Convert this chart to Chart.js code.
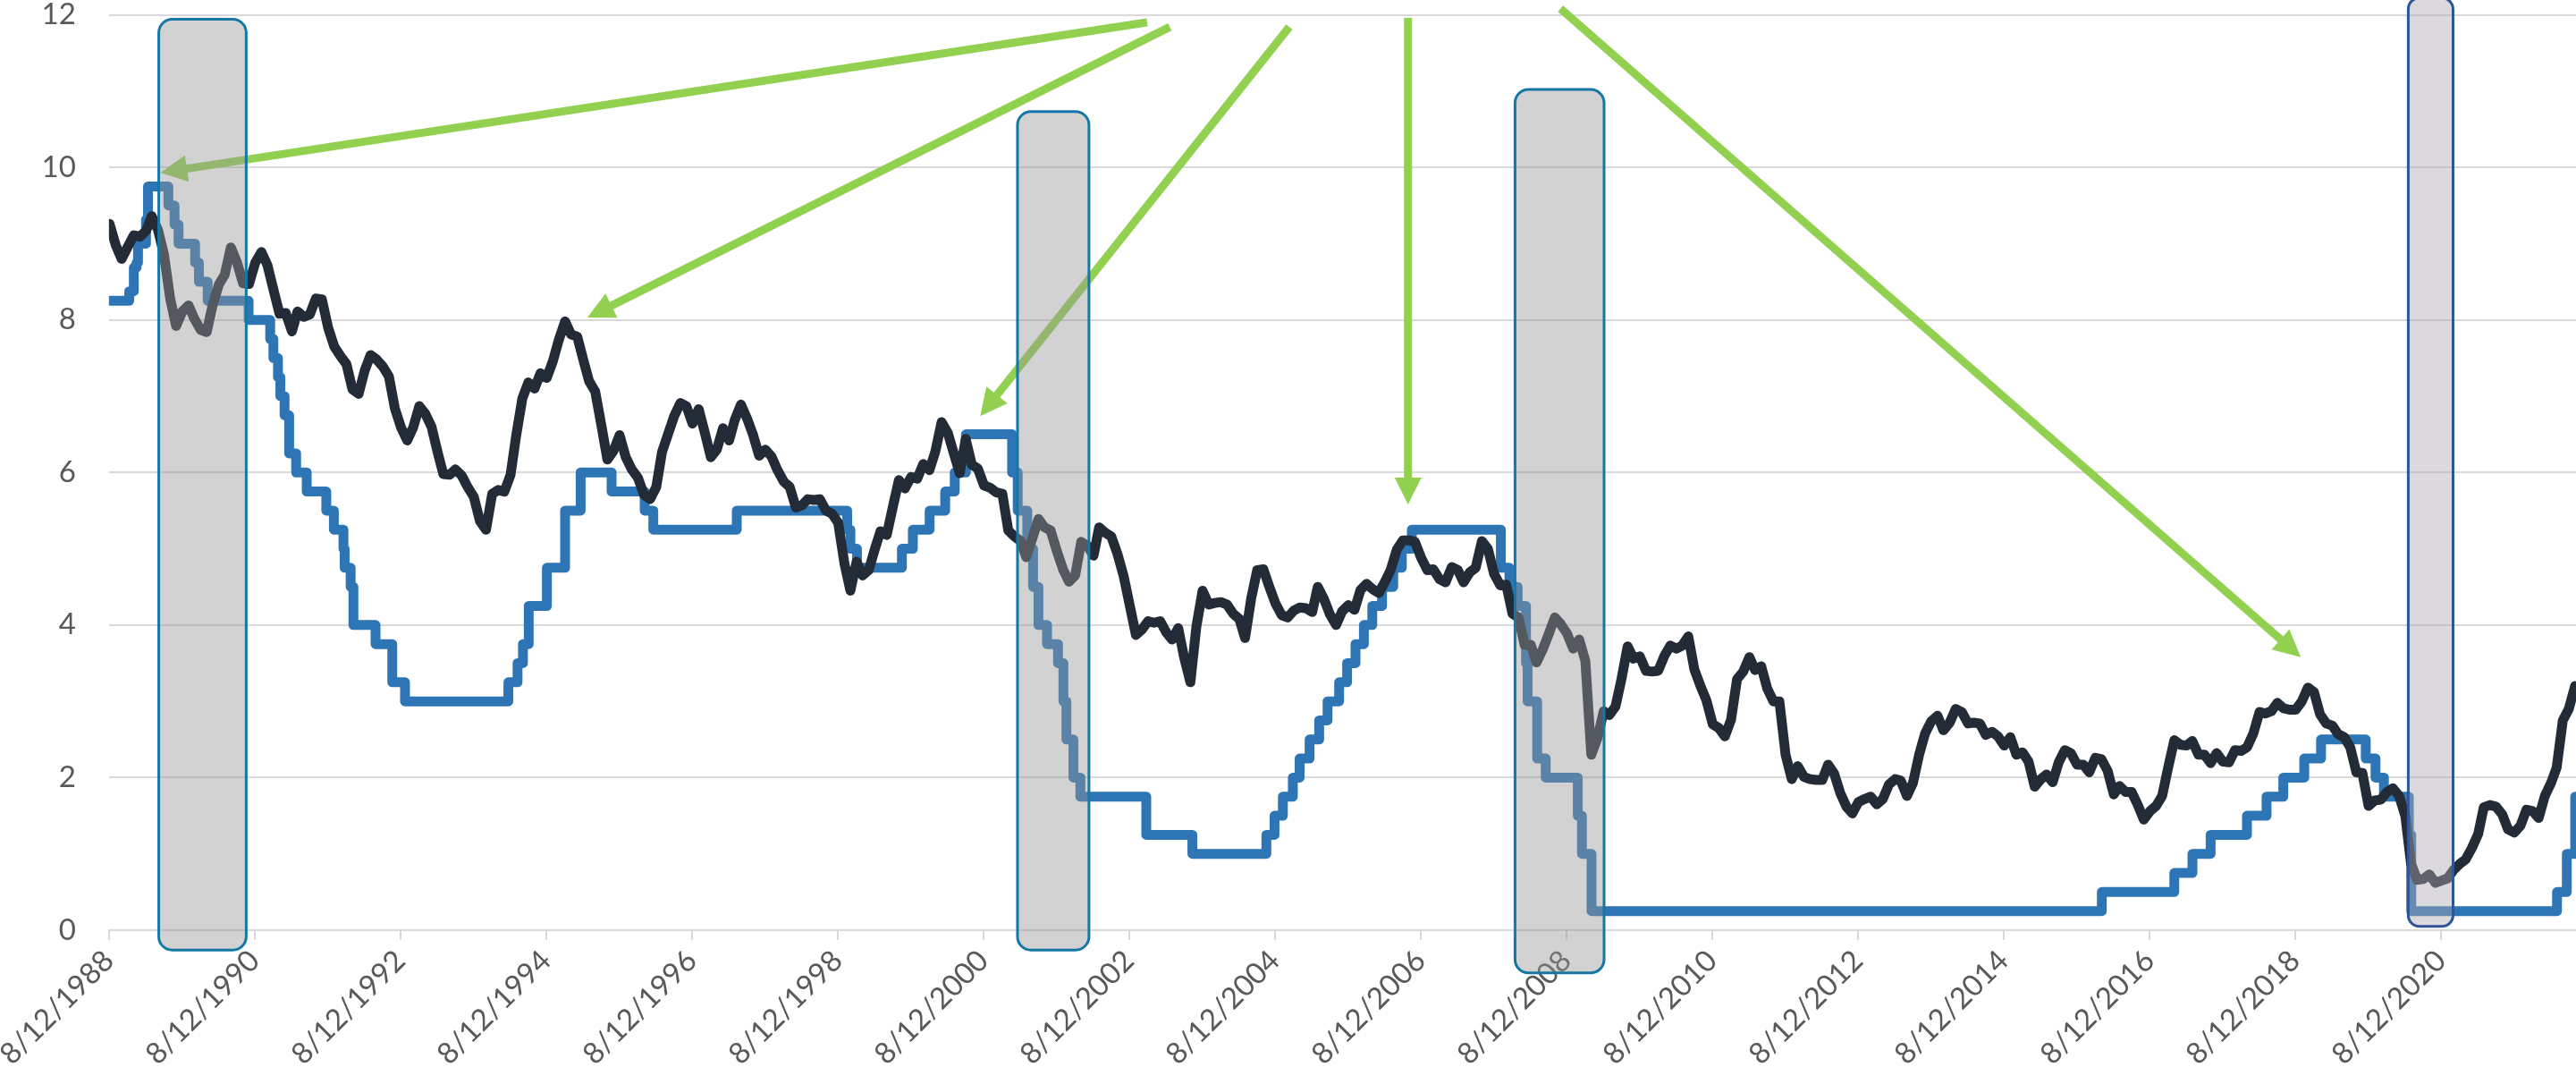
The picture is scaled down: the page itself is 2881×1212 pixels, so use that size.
<!DOCTYPE html>
<html>
<head>
<meta charset="utf-8">
<title>10-Year Treasury vs Fed Funds Target</title>
<script src="https://cdn.jsdelivr.net/npm/chart.js@4.4.1/dist/chart.umd.min.js"></script>
<style>
  html, body { margin: 0; padding: 0; background: #ffffff; }
  #wrap { width: 2881px; height: 1212px; }
</style>
</head>
<body>
<div id="wrap"><canvas id="rates" width="2881" height="1212"></canvas></div>
<script>
// 10-year Treasury yield, one value per month starting Aug 1988
const yieldStart = '1988-08';
const tsy10 = [
  9.26, 8.98, 8.80, 8.96, 9.11,
  9.09, 9.17, 9.36, 9.18, 8.86, 8.28, 7.92, 8.11, 8.19, 8.01, 7.87, 7.84,
  8.21, 8.47, 8.59, 8.95, 8.76, 8.48, 8.47, 8.75, 8.89, 8.72, 8.39, 8.08,
  8.09, 7.85, 8.11, 8.04, 8.07, 8.28, 8.27, 7.90, 7.65, 7.53, 7.42, 7.09,
  7.03, 7.34, 7.54, 7.48, 7.39, 7.26, 6.84, 6.59, 6.42, 6.59, 6.87, 6.77,
  6.60, 6.26, 5.98, 5.97, 6.04, 5.96, 5.81, 5.68, 5.36, 5.25, 5.72, 5.77,
  5.75, 5.97, 6.48, 6.97, 7.18, 7.10, 7.30, 7.24, 7.46, 7.74, 7.98, 7.81,
  7.78, 7.47, 7.20, 7.06, 6.63, 6.17, 6.28, 6.49, 6.20, 6.04, 5.93, 5.71,
  5.65, 5.81, 6.27, 6.51, 6.74, 6.91, 6.87, 6.64, 6.83, 6.53, 6.20, 6.30,
  6.58, 6.42, 6.69, 6.89, 6.71, 6.49, 6.22, 6.30, 6.21, 6.03, 5.88, 5.81,
  5.54, 5.57, 5.65, 5.64, 5.65, 5.50, 5.46, 5.34, 4.81, 4.45, 4.83, 4.65,
  4.72, 5.00, 5.23, 5.18, 5.54, 5.90, 5.79, 5.94, 5.92, 6.11, 6.03, 6.28,
  6.66, 6.52, 6.26, 5.99, 6.44, 6.10, 6.05, 5.83, 5.80, 5.74, 5.72, 5.24,
  5.16, 5.10, 4.89, 5.14, 5.39, 5.28, 5.24, 4.97, 4.73, 4.57, 4.65, 5.09,
  5.04, 4.91, 5.28, 5.21, 5.16, 4.93, 4.65, 4.26, 3.87, 3.94, 4.05, 4.03,
  4.05, 3.90, 3.81, 3.96, 3.57, 3.25, 3.98, 4.45, 4.27, 4.29, 4.30, 4.27,
  4.15, 4.08, 3.83, 4.35, 4.72, 4.73, 4.50, 4.28, 4.13, 4.10, 4.19, 4.23,
  4.22, 4.17, 4.50, 4.34, 4.14, 4.00, 4.18, 4.26, 4.20, 4.46, 4.54, 4.47,
  4.42, 4.57, 4.72, 4.99, 5.11, 5.11, 5.09, 4.88, 4.72, 4.73, 4.60, 4.56,
  4.76, 4.72, 4.56, 4.69, 4.75, 5.10, 5.00, 4.67, 4.52, 4.53, 4.15, 4.10,
  3.74, 3.74, 3.51, 3.68, 3.88, 4.10, 4.01, 3.89, 3.69, 3.81, 3.53, 2.30,
  2.52, 2.87, 2.82, 2.93, 3.29, 3.72, 3.56, 3.59, 3.40, 3.39, 3.40, 3.59,
  3.73, 3.69, 3.73, 3.85, 3.42, 3.20, 3.01, 2.70, 2.65, 2.54, 2.76, 3.29,
  3.39, 3.58, 3.41, 3.46, 3.17, 3.00, 3.00, 2.30, 1.98, 2.15, 2.01, 1.98,
  1.97, 1.97, 2.17, 2.05, 1.80, 1.62, 1.53, 1.68, 1.72, 1.75, 1.65, 1.72,
  1.91, 1.98, 1.96, 1.76, 1.93, 2.30, 2.58, 2.74, 2.81, 2.62, 2.72, 2.90,
  2.86, 2.71, 2.72, 2.71, 2.56, 2.60, 2.54, 2.42, 2.53, 2.30, 2.33, 2.21,
  1.88, 1.98, 2.04, 1.94, 2.20, 2.36, 2.32, 2.17, 2.17, 2.07, 2.26, 2.24,
  2.09, 1.78, 1.89, 1.81, 1.81, 1.64, 1.45, 1.56, 1.63, 1.76, 2.14, 2.49,
  2.43, 2.42, 2.48, 2.30, 2.30, 2.19, 2.32, 2.21, 2.20, 2.36, 2.35, 2.40,
  2.58, 2.86, 2.84, 2.87, 2.98, 2.91, 2.89, 2.89, 3.00, 3.18, 3.12, 2.83,
  2.71, 2.68, 2.57, 2.53, 2.40, 2.07, 2.06, 1.63, 1.70, 1.71, 1.81, 1.86,
  1.76, 1.50, 0.87, 0.66, 0.67, 0.73, 0.62, 0.65, 0.68, 0.79, 0.87, 0.93,
  1.08, 1.26, 1.61, 1.64, 1.62, 1.52, 1.32, 1.28, 1.37, 1.58, 1.56, 1.47,
  1.76, 1.93, 2.13, 2.75, 2.90, 3.20
];

// Fed funds target: date of each change and the new rate
const fedDates = [
  '1988-08-12', '1988-11-22', '1988-12-15', '1988-12-29', '1989-01-05', '1989-02-14', '1989-02-24',
  '1989-06-06', '1989-07-07', '1989-07-27', '1989-10-18', '1989-11-06', '1989-12-20',
  '1990-07-13', '1990-10-29', '1990-11-14', '1990-12-07', '1990-12-19',
  '1991-01-09', '1991-02-01', '1991-03-08', '1991-04-30', '1991-08-06', '1991-09-13',
  '1991-10-31', '1991-11-06', '1991-12-06', '1991-12-20',
  '1992-04-09', '1992-07-02', '1992-09-04',
  '1994-02-04', '1994-03-22', '1994-04-18', '1994-05-17', '1994-08-16', '1994-11-15',
  '1995-02-01', '1995-07-06', '1995-12-19', '1996-01-31', '1997-03-25',
  '1998-09-29', '1998-10-15', '1998-11-17',
  '1999-06-30', '1999-08-24', '1999-11-16', '2000-02-02', '2000-03-21', '2000-05-16',
  '2001-01-03', '2001-01-31', '2001-03-20', '2001-04-18', '2001-05-15', '2001-06-27',
  '2001-08-21', '2001-09-17', '2001-10-02', '2001-11-06', '2001-12-11',
  '2002-11-06', '2003-06-25',
  '2004-06-30', '2004-08-10', '2004-09-21', '2004-11-10', '2004-12-14',
  '2005-02-02', '2005-03-22', '2005-05-03', '2005-06-30', '2005-08-09', '2005-09-20',
  '2005-11-01', '2005-12-13', '2006-01-31', '2006-03-28', '2006-05-10', '2006-06-29',
  '2007-09-18', '2007-10-31', '2007-12-11',
  '2008-01-22', '2008-01-30', '2008-03-18', '2008-04-30', '2008-10-08', '2008-10-29', '2008-12-16',
  '2015-12-17', '2016-12-15', '2017-03-16', '2017-06-15', '2017-12-14',
  '2018-03-22', '2018-06-14', '2018-09-27', '2018-12-20',
  '2019-08-01', '2019-09-19', '2019-10-31',
  '2020-03-04', '2020-03-16',
  '2022-03-17', '2022-05-05', '2022-06-16', '2022-06-20'
];
const fedRates = [
  8.25, 8.375, 8.6875, 8.75, 9.0, 9.3125, 9.75,
  9.5, 9.25, 9.0, 8.75, 8.5, 8.25,
  8.0, 7.75, 7.5, 7.25, 7.0,
  6.75, 6.25, 6.0, 5.75, 5.5, 5.25,
  5.0, 4.75, 4.5, 4.0,
  3.75, 3.25, 3.0,
  3.25, 3.5, 3.75, 4.25, 4.75, 5.5,
  6.0, 5.75, 5.5, 5.25, 5.5,
  5.25, 5.0, 4.75,
  5.0, 5.25, 5.5, 5.75, 6.0, 6.5,
  6.0, 5.5, 5.0, 4.5, 4.0, 3.75,
  3.5, 3.0, 2.5, 2.0, 1.75,
  1.25, 1.0,
  1.25, 1.5, 1.75, 2.0, 2.25,
  2.5, 2.75, 3.0, 3.25, 3.5, 3.75,
  4.0, 4.25, 4.5, 4.75, 5.0, 5.25,
  4.75, 4.5, 4.25,
  3.5, 3.0, 2.25, 2.0, 1.5, 1.0, 0.25,
  0.5, 0.75, 1.0, 1.25, 1.5,
  1.75, 2.0, 2.25, 2.5,
  2.25, 2.0, 1.75,
  1.25, 0.25,
  0.5, 1.0, 1.75, 1.75
];

// axis range and labels
const axisStart = '1988-08-12';
const axisEnd = '2022-06-20';
const tickLabels = [
  '8/12/1988', '8/12/1990', '8/12/1992', '8/12/1994', '8/12/1996', '8/12/1998',
  '8/12/2000', '8/12/2002', '8/12/2004', '8/12/2006', '8/12/2008', '8/12/2010',
  '8/12/2012', '8/12/2014', '8/12/2016', '8/12/2018', '8/12/2020'
];

// shaded periods (rounded boxes drawn over the lines)
const shadeFrom = ['1989-04-19', '2001-01-30', '2007-11-28', '2020-03-01'];
const shadeTo = ['1990-07-01', '2002-01-23', '2009-02-17', '2020-10-12'];
const shadeTop = [11.94, 10.73, 11.02, 12.22];
const shadeBottom = [-0.26, -0.26, -0.56, 0.05];
const shadeFill = ['rgba(150,150,150,0.43)', 'rgba(150,150,150,0.43)', 'rgba(150,150,150,0.43)', 'rgba(172,168,176,0.44)'];
const shadeEdge = ['#1577a6', '#1577a6', '#1577a6', '#2f5597'];

// green call-out arrows: tail and tip
const arrowTailDate = ['2002-11-10', '2003-03-04', '2004-10-23', '2006-06-10', '2008-07-13'];
const arrowTailValue = [11.90, 11.84, 11.84, 11.96, 12.08];
const arrowTipDate = ['1989-04-27', '1995-03-07', '2000-07-27', '2006-06-10', '2018-09-09'];
const arrowTipValue = [9.93, 8.03, 6.74, 5.58, 3.58];

function toYear(s) {
  const [y, m, d] = s.split('-').map(Number);
  const a = Date.UTC(y, 0, 1), b = Date.UTC(y + 1, 0, 1);
  return y + (Date.UTC(y, m - 1, d || 1) - a) / (b - a);
}

const [y0, m0] = yieldStart.split('-').map(Number);
const tsyPoints = tsy10.map((v, i) => {
  const k = m0 - 1 + i;
  const y = y0 + Math.floor(k / 12);
  const m = (k % 12) + 1;
  return { x: toYear(y + '-' + String(m).padStart(2, '0') + '-15'), y: v };
});
const fedPoints = fedDates.map((d, i) => ({ x: toYear(d), y: fedRates[i] }));
const tickValues = tickLabels.map(t => {
  const [m, d, y] = t.split('/');
  return toYear(y + '-' + m.padStart(2, '0') + '-' + d);
});

const overlays = {
  id: 'overlays',
  afterDatasetsDraw(chart) {
    const { ctx, scales: { x, y } } = chart;
    ctx.save();
    // arrows
    ctx.strokeStyle = '#92d050';
    ctx.fillStyle = '#92d050';
    ctx.lineWidth = 9;
    ctx.lineCap = 'butt';
    arrowTailDate.forEach((d, i) => {
      const x1 = x.getPixelForValue(toYear(d)), y1 = y.getPixelForValue(arrowTailValue[i]);
      const x2 = x.getPixelForValue(toYear(arrowTipDate[i])), y2 = y.getPixelForValue(arrowTipValue[i]);
      const ang = Math.atan2(y2 - y1, x2 - x1);
      const head = 30, half = 15;
      const bx = x2 - head * Math.cos(ang), by = y2 - head * Math.sin(ang);
      ctx.beginPath();
      ctx.moveTo(x1, y1);
      ctx.lineTo(bx + 2 * Math.cos(ang), by + 2 * Math.sin(ang));
      ctx.stroke();
      ctx.beginPath();
      ctx.moveTo(x2, y2);
      ctx.lineTo(bx - half * Math.sin(ang), by + half * Math.cos(ang));
      ctx.lineTo(bx + half * Math.sin(ang), by - half * Math.cos(ang));
      ctx.closePath();
      ctx.fill();
    });
    // shaded boxes
    shadeFrom.forEach((d, i) => {
      const l = x.getPixelForValue(toYear(d)), r = x.getPixelForValue(toYear(shadeTo[i]));
      const t = y.getPixelForValue(shadeTop[i]), b = y.getPixelForValue(shadeBottom[i]);
      const rad = Math.min(15, (r - l) / 4);
      ctx.beginPath();
      ctx.moveTo(l + rad, t);
      ctx.lineTo(r - rad, t);
      ctx.arcTo(r, t, r, t + rad, rad);
      ctx.lineTo(r, b - rad);
      ctx.arcTo(r, b, r - rad, b, rad);
      ctx.lineTo(l + rad, b);
      ctx.arcTo(l, b, l, b - rad, rad);
      ctx.lineTo(l, t + rad);
      ctx.arcTo(l, t, l + rad, t, rad);
      ctx.closePath();
      ctx.fillStyle = shadeFill[i];
      ctx.fill();
      ctx.strokeStyle = shadeEdge[i];
      ctx.lineWidth = 3;
      ctx.stroke();
    });
    ctx.restore();
  }
};

const labelFont = { family: 'Lato', size: 33, lineHeight: 1 };

new Chart(document.getElementById('rates'), {
  type: 'line',
  data: {
    datasets: [
      {
        label: '10-Year Treasury',
        data: tsyPoints,
        borderColor: '#232b37',
        borderWidth: 11,
        pointRadius: 0,
        tension: 0,
        borderJoinStyle: 'round',
        borderCapStyle: 'round'
      },
      {
        label: 'Fed Funds Target',
        data: fedPoints,
        borderColor: '#2e75b6',
        borderWidth: 11,
        pointRadius: 0,
        stepped: true,
        borderJoinStyle: 'round',
        borderCapStyle: 'round'
      }
    ]
  },
  options: {
    responsive: false,
    devicePixelRatio: 1,
    animation: false,
    layout: { padding: 0 },
    plugins: { legend: { display: false }, tooltip: { enabled: false } },
    scales: {
      x: {
        type: 'linear',
        min: toYear(axisStart),
        max: toYear(axisEnd),
        afterBuildTicks: s => { s.ticks = tickValues.map(v => ({ value: v })); },
        afterFit: s => { s.height = 172; },
        grid: { drawOnChartArea: false, drawTicks: true, tickLength: 11, color: '#d9d9d9', lineWidth: 2 },
        border: { display: true, color: '#d9d9d9', width: 2 },
        ticks: {
          autoSkip: false,
          minRotation: 45,
          maxRotation: 45,
          padding: 6,
          color: '#595959',
          font: labelFont,
          callback: (v, i) => tickLabels[i]
        }
      },
      y: {
        min: 0,
        max: 12,
        afterFit: s => { s.width = 120; s.paddingTop = 16.5; s.paddingBottom = 16; },
        grid: { color: '#d9d9d9', lineWidth: 2, drawTicks: false },
        border: { display: false },
        ticks: { stepSize: 2, padding: 37, color: '#595959', font: labelFont }
      }
    }
  },
  plugins: [overlays]
});
</script>
</body>
</html>
